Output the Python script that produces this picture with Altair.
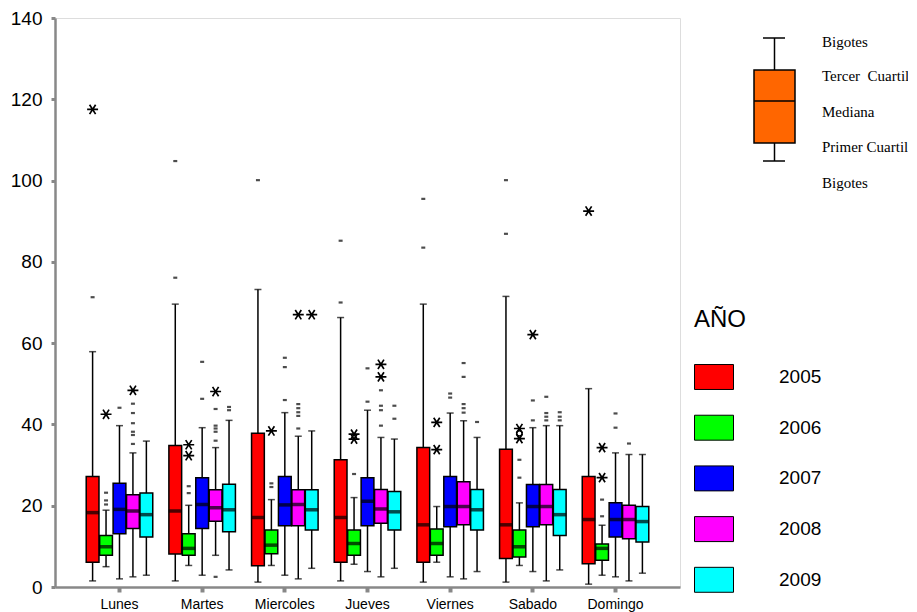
import altair as alt
import pandas as pd

days = ["Lunes", "Martes", "Miercoles", "Jueves", "Viernes", "Sabado", "Domingo"]
years = ["2005", "2006", "2007", "2008", "2009"]
colors = ["#FF0000", "#00FF00", "#0000FF", "#FF00FF", "#00FFFF"]

# box statistics, one row per day, columns = years 2005..2009
q1 = [6.1, 7.8, 13.1, 14.4, 12.3,
      8.1, 7.8, 14.4, 16.2, 13.6,
      5.2, 8.2, 15.1, 15.1, 14.0,
      6.1, 7.8, 15.1, 15.7, 14.0,
      6.1, 7.8, 14.8, 15.3, 14.0,
      7.0, 7.4, 14.8, 15.3, 12.7,
      5.7, 6.6, 12.3, 11.9, 11.1]
med = [18.3, 9.9, 19.1, 18.7, 17.8,
       18.7, 9.5, 20.3, 19.5, 19.0,
       17.1, 10.3, 20.2, 20.3, 19.0,
       17.1, 10.7, 21.1, 19.2, 18.5,
       15.3, 10.7, 19.8, 19.8, 19.0,
       15.3, 9.9, 19.8, 19.8, 17.8,
       16.6, 9.5, 16.6, 16.6, 16.1]
q3 = [27.2, 12.7, 25.5, 22.7, 23.1,
      34.8, 13.1, 26.9, 23.9, 25.3,
      37.8, 14.0, 27.2, 23.9, 23.9,
      31.3, 14.0, 26.9, 24.0, 23.5,
      34.3, 14.3, 27.2, 25.9, 24.0,
      33.9, 14.0, 25.2, 25.2, 24.0,
      27.2, 10.6, 20.7, 20.1, 19.8]
wlo = [1.5, 5.0, 2.0, 2.5, 2.9,
       1.5, 5.3, 2.9, 7.8, 4.2,
       1.2, 5.3, 2.9, 2.0, 4.6,
       1.5, 5.6, 3.8, 2.5, 4.6,
       1.2, 6.1, 2.5, 2.0, 3.8,
       1.2, 5.3, 3.8, 1.5, 4.2,
       0.7, 2.9, 2.5, 1.5, 3.4]
whi = [57.9, 18.9, 39.7, 33.0, 35.9,
       69.6, 20.1, 39.2, 34.3, 41.0,
       73.2, 21.5, 42.9, 37.1, 38.4,
       66.3, 22.0, 43.5, 36.8, 36.4,
       69.6, 19.8, 42.8, 40.9, 36.8,
       71.5, 20.7, 39.2, 39.7, 39.7,
       48.8, 15.2, 33.0, 32.6, 32.6]

# outliers: "out" = dash, "ext" = asterisk, "circ" = circle
out_day = (["Lunes"] * 14 + ["Martes"] * 17 + ["Miercoles"] * 14 + ["Jueves"] * 15
           + ["Viernes"] * 12 + ["Sabado"] * 17 + ["Domingo"] * 8)
out_year = (["2005", "2005", "2006", "2006", "2006", "2006", "2007",
             "2008", "2008", "2008", "2008", "2008", "2008", "2008"]
            + ["2005", "2005", "2006", "2006", "2006", "2006", "2007", "2007",
               "2008", "2008", "2008", "2008", "2008", "2008", "2008", "2009", "2009"]
            + ["2005", "2006", "2006", "2006", "2007", "2007", "2007",
               "2008", "2008", "2008", "2008", "2008", "2008", "2009"]
            + ["2005", "2005", "2006", "2006", "2006", "2007", "2007",
               "2008", "2008", "2008", "2008", "2008", "2008", "2009", "2009"]
            + ["2005", "2005", "2006", "2006", "2007", "2007",
               "2008", "2008", "2008", "2008", "2008", "2009"]
            + ["2005", "2005", "2006", "2006", "2006", "2006", "2006", "2007", "2007", "2007",
               "2008", "2008", "2008", "2008", "2009", "2009", "2009"]
            + ["2005", "2006", "2006", "2006", "2006", "2007", "2007", "2008"])
out_val = ([71.3, 117.5, 23.2, 21.3, 20.3, 42.5, 44.1,
            45.1, 42.8, 40.3, 38.2, 37.4, 35.2, 48.4]
           + [76.1, 104.8, 24.8, 23.1, 35.0, 32.3, 55.4, 46.3,
              43.8, 39.7, 39.0, 38.2, 36.0, 2.5, 48.1, 44.3, 43.5]
           + [100.1, 25.5, 24.6, 38.4, 56.4, 54.1, 46.0,
              45.0, 44.0, 43.0, 42.1, 39.0, 67.0, 67.0]
           + [85.2, 70.0, 27.8, 37.6, 36.4, 53.8, 45.6,
              48.4, 44.6, 43.5, 39.7, 54.8, 51.7, 44.6, 41.4]
           + [95.5, 83.5, 40.5, 33.8, 47.6, 46.6,
              55.1, 51.7, 45.0, 44.0, 42.9, 40.6]
           + [100.1, 86.9, 31.3, 26.9, 39.0, 36.5, 37.8, 45.9, 41.0, 62.1,
              46.8, 42.8, 41.9, 41.0, 43.0, 41.9, 41.0]
           + [92.5, 21.5, 17.4, 34.3, 26.9, 42.7, 39.2, 35.3])
out_kind = (["out", "ext", "out", "out", "out", "ext", "out",
             "out", "out", "out", "out", "out", "out", "ext"]
            + ["out", "out", "out", "out", "ext", "ext", "out", "out",
               "out", "out", "out", "out", "out", "out", "ext", "out", "out"]
            + ["out", "out", "out", "ext", "out", "out", "out",
               "out", "out", "out", "out", "out", "ext", "ext"]
            + ["out", "out", "out", "ext", "ext", "out", "out",
               "out", "out", "out", "out", "ext", "ext", "out", "out"]
            + ["out", "out", "ext", "ext", "out", "out",
               "out", "out", "out", "out", "out", "out"]
            + ["out", "out", "out", "out", "ext", "ext", "circ", "out", "out", "ext",
               "out", "out", "out", "out", "out", "out", "out"]
            + ["ext", "out", "out", "ext", "ext", "out", "out", "out"])

rows = []
for i, d in enumerate(days):
    for j, yv in enumerate(years):
        k = i * 5 + j
        rows.append(dict(dia=d, anio=yv, q1=q1[k], med=med[k], q3=q3[k], wlo=wlo[k], whi=whi[k]))
box = pd.DataFrame(rows)
outl = pd.DataFrame({"dia": out_day, "anio": out_year, "valor": out_val, "tipo": out_kind})

FONT = "Liberation Sans"
TOP = 10  # plot top inside the svg

xenc = alt.X("dia:N", sort=days,
             scale=alt.Scale(domain=days, paddingOuter=0.28, paddingInner=0),
             axis=alt.Axis(title=None, labelAngle=0, labelFontSize=14, tickSize=5, tickWidth=4,
                           labelPadding=5, domainWidth=2.5))
xoff = alt.XOffset("anio:N", sort=years,
                   scale=alt.Scale(domain=years, paddingInner=0.05, paddingOuter=0.6))
yscale = alt.Scale(domain=[0, 140], nice=False, zero=True)
yaxis = alt.Axis(title=None, values=[0, 20, 40, 60, 80, 100, 120, 140], labelFontSize=19,
                 tickSize=4, tickWidth=3, labelPadding=9, domainWidth=2.5, grid=False)

whisk = alt.Chart(box).mark_rule(color="black", strokeWidth=1.5).encode(
    x=xenc, xOffset=xoff, y=alt.Y("wlo:Q", scale=yscale, axis=yaxis), y2="whi:Q")
cap_lo = alt.Chart(box).mark_tick(orient="horizontal", color="black", thickness=1.5, size=7).encode(
    x=xenc, xOffset=xoff, y=alt.Y("wlo:Q", scale=yscale))
cap_hi = alt.Chart(box).mark_tick(orient="horizontal", color="black", thickness=1.5, size=7).encode(
    x=xenc, xOffset=xoff, y=alt.Y("whi:Q", scale=yscale))
bars = alt.Chart(box).mark_bar(stroke="black", strokeWidth=1.5, opacity=1).encode(
    x=xenc, xOffset=xoff, y=alt.Y("q1:Q", scale=yscale), y2="q3:Q",
    color=alt.Color("anio:N", scale=alt.Scale(domain=years, range=colors),
                    legend=alt.Legend(title="AÑO", orient="none", legendX=639, legendY=290,
                                      symbolType="M-1,-0.64H1V0.64H-1Z", symbolSize=1521,
                                      symbolStrokeColor="black", symbolStrokeWidth=1,
                                      symbolOpacity=1,
                                      labelFontSize=19, labelFont=FONT, labelColor="black",
                                      titleFontSize=24, titleFont=FONT, titleFontWeight="normal",
                                      titleColor="black", titlePadding=25, rowPadding=15.7,
                                      labelOffset=45)))
medians = alt.Chart(box).mark_tick(orient="horizontal", color="black", thickness=3.5, size=13).encode(
    x=xenc, xOffset=xoff, y=alt.Y("med:Q", scale=yscale))

dash = alt.Chart(outl).transform_filter(alt.datum.tipo == "out").mark_tick(
    orient="horizontal", color="black", thickness=2.2, size=4).encode(
    x=xenc, xOffset=xoff, y=alt.Y("valor:Q", scale=yscale))
star = alt.Chart(outl).transform_filter(alt.datum.tipo == "ext").mark_point(
    shape="M-1,0L1,0M-0.55,-0.85L0.55,0.85M-0.55,0.85L0.55,-0.85",
    size=120, filled=False, stroke="black", strokeWidth=1.7, opacity=1).encode(
    x=xenc, xOffset=xoff, y=alt.Y("valor:Q", scale=yscale))
circ = alt.Chart(outl).transform_filter(alt.datum.tipo == "circ").mark_point(
    shape="circle", size=30, filled=False, stroke="black", strokeWidth=1.5, opacity=1).encode(
    x=xenc, xOffset=xoff, y=alt.Y("valor:Q", scale=yscale))

# schematic box legend (top right)
one = pd.DataFrame({"a": [0]})
s_rule = alt.Chart(one).mark_rule(color="black", strokeWidth=1.5).encode(
    x=alt.value(719.5), y=alt.value(20), y2=alt.value(143))
s_rect = alt.Chart(one).mark_rect(fill="#FF6600", stroke="black", strokeWidth=1.5).encode(
    x=alt.value(699), x2=alt.value(740), y=alt.value(52), y2=alt.value(125))
s_med = alt.Chart(one).mark_rule(color="black", strokeWidth=1.5).encode(
    x=alt.value(699), x2=alt.value(740), y=alt.value(83))
s_cap1 = alt.Chart(one).mark_rule(color="black", strokeWidth=1.5).encode(
    x=alt.value(708), x2=alt.value(730), y=alt.value(20))
s_cap2 = alt.Chart(one).mark_rule(color="black", strokeWidth=1.5).encode(
    x=alt.value(708), x2=alt.value(730), y=alt.value(143))
s_labels = ["Bigotes", "Tercer\u00a0 Cuartil", "Mediana", "Primer Cuartil", "Bigotes"]
s_ys = [24, 58, 94, 129, 165]
s_texts = [alt.Chart(one).mark_text(align="left", baseline="middle", font="Liberation Serif",
                                    fontSize=15, color="black").encode(
    x=alt.value(767), y=alt.value(yy), text=alt.value(t)) for t, yy in zip(s_labels, s_ys)]

chart = alt.layer(whisk, cap_lo, cap_hi, bars, medians, dash, star, circ,
                  s_rule, s_rect, s_med, s_cap1, s_cap2, *s_texts).properties(
    width=625, height=569,
    autosize=alt.AutoSizeParams(type="none"),
    padding={"left": 47, "top": TOP, "right": 228, "bottom": 26},
).configure_view(stroke="black", strokeWidth=1.5).configure_axis(
    labelFont=FONT, labelColor="black", domainColor="black", tickColor="black"
).configure(background="white")

chart.save("out.html", embed_options={"renderer": "svg", "actions": False})
